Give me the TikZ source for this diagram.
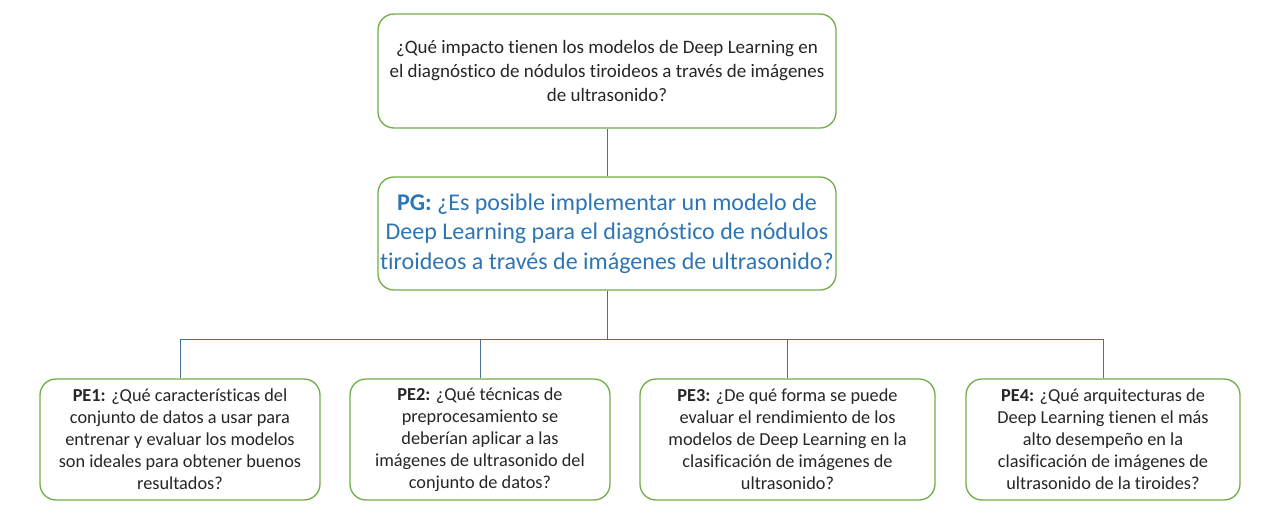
\documentclass[tikz,border=0pt]{standalone}
\usepackage{fontspec}
\setmainfont{Carlito}[Ligatures=NoCommon]
\definecolor{boxgreen}{HTML}{70AD47}
\definecolor{linkblue}{HTML}{41719C}
\definecolor{pgblue}{HTML}{2E75B6}
\begin{document}
\begin{tikzpicture}[x=1pt,y=-1pt,
  qbox/.style={draw=boxgreen, line width=1.3pt, rounded corners=16pt, fill=white,
    align=center, inner sep=0pt, text=black!85},
  link/.style={draw=linkblue, line width=0.9pt}]
\useasboundingbox (0,0) rectangle (1280,512);
\fill[white] (0,0) rectangle (1280,512);

% main research question
\node[qbox, minimum width=458pt, minimum height=114pt,
  font=\fontsize{19}{24}\selectfont] (top) at (607,71)
  {¿Qué impacto tienen los modelos de Deep Learning en\\
   el diagnóstico de nódulos tiroideos a través de imágenes\\
   de ultrasonido?};

% general question
\node[qbox, minimum width=458pt, minimum height=113pt, text=pgblue,
  font=\fontsize{24}{29.5}\selectfont] (pg) at (607,233.5)
  {\textbf{PG:} ¿Es posible implementar un modelo de\\
   Deep Learning para el diagnóstico de nódulos\\
   tiroideos a través de imágenes de ultrasonido?};

% specific questions
\tikzset{pestyle/.style={qbox, minimum height=121pt,
  font=\fontsize{18.3}{22}\selectfont}}
\node[pestyle, minimum width=280pt] (pe1) at (180,439.5)
  {\textbf{PE1:} ¿Qué características del\\
   conjunto de datos a usar para\\
   entrenar y evaluar los modelos\\
   son ideales para obtener buenos\\
   resultados?};
\node[pestyle, minimum width=260pt] (pe2) at (480,439.5)
  {\textbf{PE2:} ¿Qué técnicas de\\
   preprocesamiento se\\
   deberían aplicar a las\\
   imágenes de ultrasonido del\\
   conjunto de datos?};
\node[pestyle, minimum width=295pt] (pe3) at (787.5,439.5)
  {\textbf{PE3:} ¿De qué forma se puede\\
   evaluar el rendimiento de los\\
   modelos de Deep Learning en la\\
   clasificación de imágenes de\\
   ultrasonido?};
\node[pestyle, minimum width=274pt] (pe4) at (1103,439.5)
  {\textbf{PE4:} ¿Qué arquitecturas de\\
   Deep Learning tienen el más\\
   alto desempeño en la\\
   clasificación de imágenes de\\
   ultrasonido de la tiroides?};

% connectors
\coordinate (hub) at (607,339);
\draw[link] (top.south) -- (pg.north);
\draw[link] (pg.south) -- (hub);
\draw[link] (hub) -| (pe1.north);
\draw[link] (hub) -| (pe2.north);
\draw[link] (hub) -| (pe3.north);
\draw[link] (hub) -| (pe4.north);
\end{tikzpicture}
\end{document}
